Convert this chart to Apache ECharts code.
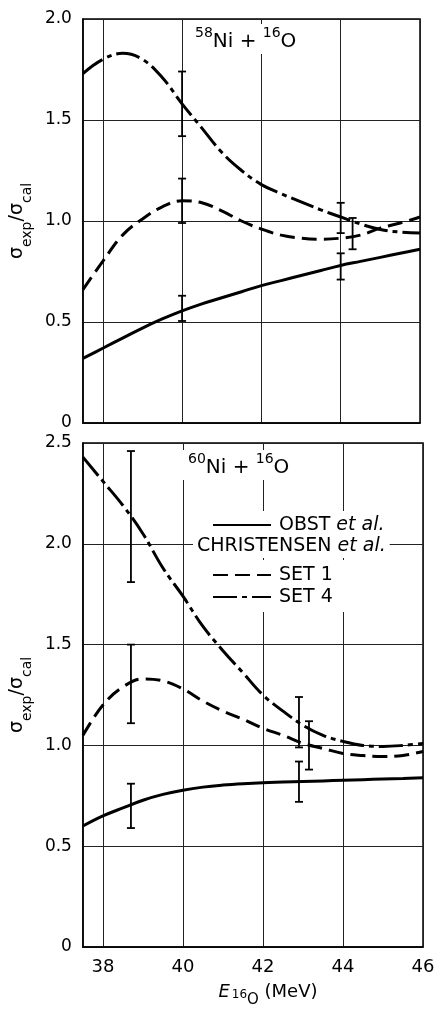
<!DOCTYPE html>
<html>
<head>
<meta charset="utf-8">
<script src="https://cdn.jsdelivr.net/npm/echarts@6/dist/echarts.min.js"></script>
<style>
  html, body { margin: 0; padding: 0; background: #fff; }
  #main { width: 439px; height: 1013px; }
</style>
</head>
<body>
<div id="main"></div>
<script>
const energies = [37.5, 38, 38.5, 39, 39.5, 40, 40.5, 41, 41.5, 42, 42.5, 43, 43.5, 44, 44.5, 45, 45.5, 46]

// 58Ni + 16O
const ni58Obst = [0.32, 0.37, 0.42, 0.47, 0.515, 0.555, 0.59, 0.62, 0.65, 0.68, 0.705, 0.73, 0.755, 0.78, 0.80, 0.82, 0.84, 0.86]
const ni58Set1 = [0.66, 0.80, 0.93, 1.01, 1.07, 1.10, 1.09, 1.05, 1.00, 0.96, 0.93, 0.915, 0.91, 0.915, 0.93, 0.965, 0.99, 1.02]
const ni58Set4 = [1.73, 1.80, 1.83, 1.80, 1.71, 1.58, 1.46, 1.34, 1.25, 1.18, 1.135, 1.095, 1.055, 1.02, 0.985, 0.958, 0.945, 0.94]
const ni58ErrE = [40, 40, 40, 44, 44, 44.3]
const ni58ErrLo = [0.505, 0.99, 1.42, 0.71, 0.94, 0.86]
const ni58ErrHi = [0.63, 1.21, 1.74, 0.84, 1.09, 1.015]

// 60Ni + 16O
const ni60Obst = [0.60, 0.65, 0.69, 0.728, 0.757, 0.778, 0.793, 0.803, 0.81, 0.815, 0.818, 0.821, 0.824, 0.827, 0.83, 0.833, 0.836, 0.84]
const ni60Set1 = [1.05, 1.20, 1.29, 1.33, 1.32, 1.28, 1.22, 1.17, 1.13, 1.085, 1.05, 1.01, 0.985, 0.96, 0.95, 0.945, 0.95, 0.97]
const ni60Set4 = [2.43, 2.31, 2.19, 2.05, 1.88, 1.74, 1.59, 1.47, 1.36, 1.25, 1.17, 1.10, 1.05, 1.02, 1.00, 0.995, 1.00, 1.01]
const ni60ErrE = [38.7, 38.7, 38.7, 42.9, 42.9, 43.15]
const ni60ErrLo = [0.59, 1.11, 1.81, 0.72, 0.99, 0.88]
const ni60ErrHi = [0.81, 1.50, 2.46, 0.92, 1.24, 1.12]

const xTicks = [38, 40, 42, 44, 46]

const FONT = 'DejaVu Sans'
const dashSet1 = [15, 7]
const dashSet4 = [24, 5, 5, 5]

const myChart = echarts.init(document.getElementById('main'))

const pairs = (ys) => energies.map((e, i) => [e, ys[i]])
const bars = (es, lo, hi) => es.map((e, i) => [e, lo[i], hi[i]])

function renderErrorBar(params, api) {
  const x = api.value(0)
  const lo = api.coord([x, api.value(1)])
  const hi = api.coord([x, api.value(2)])
  const cap = 4
  const style = { stroke: '#000', lineWidth: 1.8 }
  return {
    type: 'group',
    children: [
      { type: 'line', shape: { x1: lo[0], y1: lo[1], x2: hi[0], y2: hi[1] }, style },
      { type: 'line', shape: { x1: lo[0] - cap, y1: lo[1], x2: lo[0] + cap, y2: lo[1] }, style },
      { type: 'line', shape: { x1: hi[0] - cap, y1: hi[1], x2: hi[0] + cap, y2: hi[1] }, style }
    ]
  }
}

function curve(name, idx, ys, dash) {
  return {
    name: name,
    type: 'line',
    xAxisIndex: idx,
    yAxisIndex: idx,
    data: pairs(ys),
    smooth: 0.4,
    symbol: 'none',
    lineStyle: { color: '#000', width: 3, type: dash || 'solid' },
    itemStyle: { color: '#000' },
    z: 2
  }
}

function errors(idx, es, lo, hi) {
  return {
    type: 'custom',
    xAxisIndex: idx,
    yAxisIndex: idx,
    data: bars(es, lo, hi),
    encode: { x: 0, y: [1, 2] },
    renderItem: renderErrorBar,
    z: 3
  }
}

const yName = '{g|σ}{sub|exp}{g|/σ}{sub|cal}'
const yNameStyle = {
  color: '#000',
  fontFamily: FONT,
  rich: {
    g: { fontSize: 19, fontFamily: FONT, lineHeight: 22, verticalAlign: 'top', color: '#000' },
    sub: { fontSize: 14, fontFamily: FONT, lineHeight: 14, verticalAlign: 'top', padding: [12, 0, 0, 0], color: '#000' }
  }
}

function xAxisOpt(idx, showLabels) {
  return {
    type: 'value',
    gridIndex: idx,
    min: 37.5,
    max: 46,
    axisLine: { show: true, onZero: false, lineStyle: { color: '#000', width: 1.5 } },
    axisTick: { show: false, customValues: xTicks },
    splitLine: { show: true, lineStyle: { color: '#222', width: 1 } },
    axisLabel: {
      show: showLabels,
      customValues: xTicks,
      color: '#000',
      fontFamily: FONT,
      fontSize: 18,
      margin: 11
    }
  }
}

function yAxisOpt(idx, max) {
  return {
    type: 'value',
    gridIndex: idx,
    min: 0,
    max: max,
    interval: 0.5,
    name: yName,
    nameLocation: 'middle',
    nameRotate: 90,
    nameGap: 44,
    nameTextStyle: yNameStyle,
    axisLine: { show: true, lineStyle: { color: '#000', width: 1.5 } },
    axisTick: { show: false },
    splitLine: { show: true, lineStyle: { color: '#222', width: 1 } },
    axisLabel: {
      color: '#000',
      fontFamily: FONT,
      fontSize: 17,
      margin: 11,
      formatter: (v) => (v === 0 ? '0' : v.toFixed(1))
    }
  }
}

const titleRich = {
  s: { fontSize: 14, fontFamily: FONT, fontWeight: 'normal', lineHeight: 15, verticalAlign: 'top', color: '#000' },
  n: { fontSize: 20, fontFamily: FONT, fontWeight: 'normal', lineHeight: 26, verticalAlign: 'top', padding: [6, 0, 0, 0], color: '#000' }
}

const legendRich = {
  n: { fontSize: 19, fontFamily: FONT, color: '#000' },
  i: { fontSize: 19, fontFamily: FONT, fontStyle: 'italic', color: '#000' }
}
const legendFormatter = (name) => {
  if (name === 'OBST et al.') return '{n|OBST }{i|et al.}'
  return '{n|' + name + '}'
}

const option = {
  animation: false,
  backgroundColor: '#fff',
  textStyle: { fontFamily: FONT, color: '#000' },
  grid: [
    { left: 75, top: 19, width: 345, height: 404, show: true, borderColor: '#000', borderWidth: 1.5, backgroundColor: 'transparent' },
    { left: 77, top: 443, width: 346, height: 507, show: true, borderColor: '#000', borderWidth: 1.5, backgroundColor: 'transparent' }
  ],
  title: [
    {
      text: '{s|58}{n|Ni + }{s|16}{n|O}',
      left: 189, top: 24,
      padding: [2, 6, 2, 6],
      backgroundColor: '#fff',
      textStyle: { fontWeight: 'normal', rich: titleRich }
    },
    {
      text: '{s|60}{n|Ni + }{s|16}{n|O}',
      left: 182, top: 450,
      padding: [2, 6, 2, 6],
      backgroundColor: '#fff',
      textStyle: { fontWeight: 'normal', rich: titleRich }
    }
  ],
  legend: [
    {
      data: ['OBST et al.'],
      left: 195, top: 511,
      padding: [3, 4, 3, 17],
      itemWidth: 58, itemHeight: 14,
      itemStyle: { opacity: 0 },
      backgroundColor: '#fff',
      selectedMode: false,
      formatter: legendFormatter,
      textStyle: { fontSize: 19, lineHeight: 22, padding: [0, 0, 0, 3], rich: legendRich }
    },
    {
      data: ['SET 1', 'SET 4'],
      orient: 'vertical',
      left: 195, top: 560,
      padding: [4, 60, 4, 17],
      itemGap: 0,
      itemWidth: 58, itemHeight: 14,
      itemStyle: { opacity: 0 },
      backgroundColor: '#fff',
      selectedMode: false,
      formatter: legendFormatter,
      textStyle: { fontSize: 19, lineHeight: 22, padding: [0, 0, 0, 3], rich: legendRich }
    }
  ],
  graphic: [
    {
      type: 'text',
      left: 193, top: 536,
      z: 10,
      style: {
        text: '{n|CHRISTENSEN }{i|et al.}',
        rich: legendRich,
        backgroundColor: '#fff',
        padding: [1, 4, 2, 4],
        fill: '#000'
      }
    }
  ],
  xAxis: [
    xAxisOpt(0, false),
    Object.assign(xAxisOpt(1, true), {
      name: '{i|E}{s|16}{o|O}{n| (MeV)}',
      nameLocation: 'middle',
      nameGap: 36,
      nameTextStyle: {
        padding: [0, 0, 0, 30],
        rich: {
          i: { fontSize: 18, fontFamily: FONT, fontStyle: 'italic', lineHeight: 22, verticalAlign: 'top', color: '#000' },
          s: { fontSize: 12, fontFamily: FONT, lineHeight: 14, verticalAlign: 'top', padding: [6, 0, 0, 2], color: '#000' },
          o: { fontSize: 15, fontFamily: FONT, lineHeight: 15, verticalAlign: 'top', padding: [10, 0, 0, 0], color: '#000' },
          n: { fontSize: 18, fontFamily: FONT, lineHeight: 22, verticalAlign: 'top', color: '#000' }
        }
      }
    })
  ],
  yAxis: [yAxisOpt(0, 2), yAxisOpt(1, 2.5)],
  series: [
    curve('OBST et al.', 0, ni58Obst),
    curve('SET 1', 0, ni58Set1, dashSet1),
    curve('SET 4', 0, ni58Set4, dashSet4),
    errors(0, ni58ErrE, ni58ErrLo, ni58ErrHi),
    curve('OBST et al.', 1, ni60Obst),
    curve('SET 1', 1, ni60Set1, dashSet1),
    curve('SET 4', 1, ni60Set4, dashSet4),
    errors(1, ni60ErrE, ni60ErrLo, ni60ErrHi)
  ]
}

myChart.setOption(option)
</script>
</body>
</html>
